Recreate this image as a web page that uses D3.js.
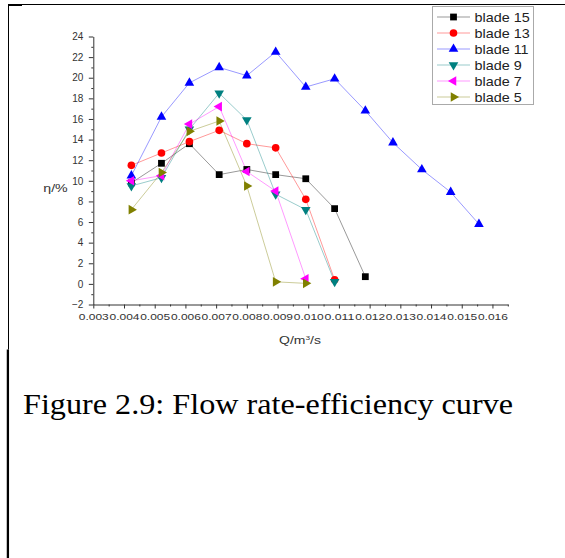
<!DOCTYPE html>
<html>
<head>
<meta charset="utf-8">
<script src="https://cdn.jsdelivr.net/npm/d3@7"></script>
<style>
  html, body { margin: 0; padding: 0; background: #fff; }
  svg { display: block; }
</style>
</head>
<body>
<svg id="chart" width="565" height="558"></svg>
<script>
// Flow rate (m^3/s) at each measured operating point
const flow = [0.00424, 0.00522, 0.00613, 0.00710, 0.00800, 0.00894, 0.00992,
              0.01086, 0.01186, 0.01276, 0.01370, 0.01464, 0.01556];

// Efficiency (%) for each blade count, in order of increasing flow
const blade15 = [9.8, 11.7, 13.6, 10.6, 11.1, 10.6, 10.2, 7.3, 0.7];
const blade13 = [11.5, 12.7, 13.8, 14.9, 13.6, 13.2, 8.2, 0.4];
const blade11 = [10.5, 16.2, 19.5, 21.0, 20.2, 22.5, 19.1, 19.9, 16.8, 13.7, 11.1, 8.9, 5.8];
const blade9  = [9.5, 10.3, 15.0, 18.5, 15.9, 8.7, 7.2, 0.2];
const blade7  = [10.0, 10.5, 15.5, 17.2, 10.9, 9.0, 0.5];
const blade5  = [7.2, 10.8, 14.8, 15.8, 9.5, 0.2, 0.05];

const seriesNames = ["blade 15", "blade 13", "blade 11", "blade 9", "blade 7", "blade 5"];
const seriesValues = [blade15, blade13, blade11, blade9, blade7, blade5];

const xTicks = [0.003, 0.004, 0.005, 0.006, 0.007, 0.008, 0.009, 0.010,
                0.011, 0.012, 0.013, 0.014, 0.015, 0.016];
const yTicks = [-2, 0, 2, 4, 6, 8, 10, 12, 14, 16, 18, 20, 22, 24];

const xTitle = "Q/m";
const yTitle = "η/%";
const caption = "Figure 2.9: Flow rate-efficiency curve";

// styling per series
const colors = ["#000000", "#ff0000", "#0000ff", "#008080", "#ff00ff", "#808000"];
const shapes = [
  { type: d3.symbolSquare, size: 46, rot: 0 },
  { type: d3.symbolCircle, size: 46, rot: 0 },
  { type: d3.symbolTriangle, size: 40, rot: 0 },
  { type: d3.symbolTriangle, size: 40, rot: 180 },
  { type: d3.symbolTriangle, size: 40, rot: -90 },
  { type: d3.symbolTriangle, size: 40, rot: 90 }
];

const svg = d3.select("#chart");
const axisColor = "#333";
const font = "'Liberation Sans', Arial, sans-serif";

// page frame lines
const frame = svg.append("g").attr("stroke", "#000").attr("fill", "none");
frame.append("line").attr("x1", 8).attr("x2", 565).attr("y1", 4.5).attr("y2", 4.5).attr("stroke-width", 1);
frame.append("line").attr("x1", 8).attr("x2", 22).attr("y1", 5).attr("y2", 5).attr("stroke-width", 2);
frame.append("line").attr("x1", 8.5).attr("x2", 8.5).attr("y1", 4).attr("y2", 349.5).attr("stroke-width", 1);
frame.append("line").attr("x1", 7.9).attr("x2", 7.9).attr("y1", 349.5).attr("y2", 558).attr("stroke-width", 2.3);

// scales
const x = d3.scaleLinear().domain([0.003, 0.0165]).range([93.3, 507.8]);
const y = d3.scaleLinear().domain([-2, 24]).range([304.5, 36.5]);

// minor ticks
const xMinor = d3.range(0.0035, 0.0166, 0.001).map(v => +v.toFixed(4));
const yMinor = d3.range(-1, 24, 2);

// x axis
const gx = svg.append("g").attr("transform", `translate(0,${y(-2)})`);
gx.call(d3.axisBottom(x).tickValues(xMinor).tickSize(2).tickSizeOuter(0).tickFormat(""));
gx.call(g => g.select(".domain").remove());
const gxMajor = svg.append("g").attr("transform", `translate(0,${y(-2)})`)
  .call(d3.axisBottom(x).tickValues(xTicks).tickSize(4).tickSizeOuter(0)
        .tickFormat(d3.format(".3f")));
gxMajor.selectAll("text")
  .attr("y", 9)
  .attr("font-family", font)
  .attr("font-size", 8.6)
  .attr("fill", axisColor)
  .attr("textLength", 30)
  .attr("lengthAdjust", "spacingAndGlyphs");

// y axis
const gy = svg.append("g").attr("transform", `translate(${x(0.003)},0)`);
gy.call(d3.axisLeft(y).tickValues(yMinor).tickSize(2).tickSizeOuter(0).tickFormat(""));
gy.call(g => g.select(".domain").remove());
const gyMajor = svg.append("g").attr("transform", `translate(${x(0.003)},0)`)
  .call(d3.axisLeft(y).tickValues(yTicks).tickSize(4.5).tickSizeOuter(0).tickFormat(d3.format("d")));
gyMajor.selectAll("text")
  .attr("x", -10)
  .attr("font-family", font)
  .attr("font-size", 10)
  .attr("fill", axisColor);

svg.selectAll(".domain, .tick line").attr("stroke", axisColor).attr("stroke-width", 1);
svg.selectAll(".tick text").attr("font-family", font);

// axis titles (horizontally stretched, as in the printed figure)
svg.append("text")
  .attr("transform", "translate(55.5,191.5) scale(1.35,1)")
  .attr("text-anchor", "middle")
  .attr("font-family", font)
  .attr("font-size", 10.5)
  .attr("fill", axisColor)
  .text(yTitle);

const xt = svg.append("text")
  .attr("transform", "translate(300,344) scale(1.4,1)")
  .attr("text-anchor", "middle")
  .attr("font-family", font)
  .attr("font-size", 10)
  .attr("fill", axisColor);
xt.append("tspan").text(xTitle);
xt.append("tspan").attr("font-size", 6).attr("dy", -4).text("3");
xt.append("tspan").attr("dy", 4).text("/s");

// series lines and markers
const line = d3.line().x((d, i) => x(flow[i])).y(d => y(d));
seriesValues.forEach((vals, s) => {
  svg.append("path")
    .attr("d", line(vals))
    .attr("fill", "none")
    .attr("stroke", colors[s])
    .attr("stroke-opacity", 0.4)
    .attr("stroke-width", 1);
});
seriesValues.forEach((vals, s) => {
  const sym = d3.symbol().type(shapes[s].type).size(shapes[s].size);
  svg.append("g").selectAll("path")
    .data(vals)
    .join("path")
    .attr("d", sym)
    .attr("transform", (d, i) => `translate(${x(flow[i])},${y(d)}) rotate(${shapes[s].rot})`)
    .attr("fill", colors[s]);
});

// legend
const lg = svg.append("g");
lg.append("rect")
  .attr("x", 432.5).attr("y", 6.5).attr("width", 101).attr("height", 98)
  .attr("fill", "#fff").attr("stroke", "#aaa").attr("stroke-width", 1);
seriesNames.forEach((name, s) => {
  const ly = 17 + s * 16;
  lg.append("line")
    .attr("x1", 437).attr("x2", 470).attr("y1", ly).attr("y2", ly)
    .attr("stroke", colors[s]).attr("stroke-opacity", 0.4).attr("stroke-width", 1);
  lg.append("path")
    .attr("d", d3.symbol().type(shapes[s].type).size(shapes[s].size)())
    .attr("transform", `translate(453.5,${ly}) rotate(${shapes[s].rot})`)
    .attr("fill", colors[s]);
  lg.append("text")
    .attr("transform", `translate(474.5,${ly + 4.5}) scale(1.15,1)`)
    .attr("font-family", font)
    .attr("font-size", 12.5)
    .attr("fill", "#222")
    .text(name);
});

// caption
svg.append("text")
  .attr("transform", "translate(23,414) scale(1.13,1)")
  .attr("font-family", "'Liberation Serif', 'Times New Roman', serif")
  .attr("font-size", 28.5)
  .attr("fill", "#000")
  .text(caption);
</script>
</body>
</html>
